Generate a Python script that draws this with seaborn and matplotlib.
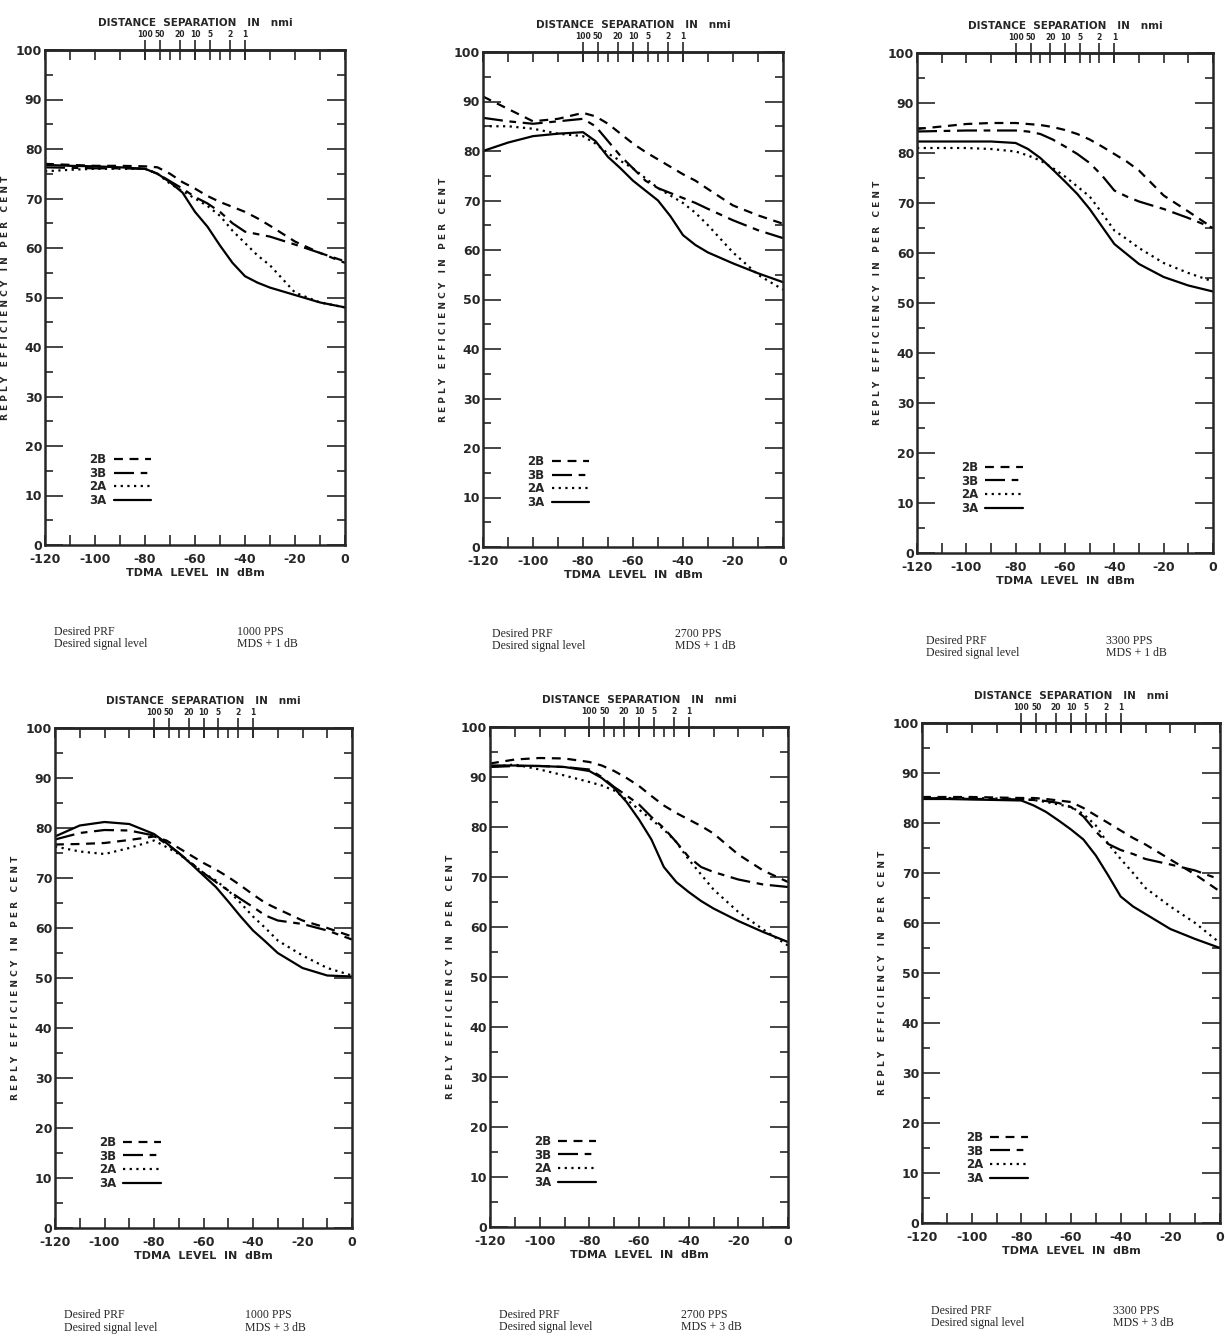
import numpy as np
import pandas as pd
import seaborn as sns
import matplotlib.pyplot as plt

# TDMA level (dBm) at which each curve was read
level = [-120, -110, -100, -90, -80, -75, -70, -65, -60, -55, -50, -45, -40, -35, -30, -20, -10, 0]
series_names = ["2B", "3B", "2A", "3A"]

# 1000 PPS, MDS + 1 dB
a_2b = [77, 76.8, 76.6, 76.6, 76.5, 76.3, 75, 73.3, 72, 70.5, 69.3, 68.3, 67.3, 66, 64.5, 61.3, 59, 57.3]
a_3b = [76.3, 76.2, 76.1, 76.1, 76, 75, 73.5, 72, 70.3, 69, 67.3, 65, 63.3, 62.8, 62.3, 60.7, 59, 57]
a_2a = [75.5, 75.8, 76, 76, 76, 75, 73, 71.5, 70, 68.5, 66.5, 63.5, 61, 58.5, 56.5, 51, 49, 48]
a_3a = [76.8, 76.6, 76.5, 76.3, 76, 75, 73.3, 71.2, 67.3, 64.3, 60.5, 57, 54.3, 53, 52, 50.5, 49, 48]

# 2700 PPS, MDS + 1 dB
b_2b = [91, 88.5, 86, 86.5, 87.7, 87, 85.5, 83.5, 81.5, 79.8, 78.3, 76.8, 75.3, 74, 72.3, 69, 67, 65.3]
b_3b = [86.7, 86, 85.5, 86, 86.5, 85, 82, 79, 76.5, 74, 72.5, 71.5, 70.5, 69.5, 68.3, 66, 64, 62.4]
b_2a = [85, 85, 84.5, 83.5, 83, 81.5, 79.5, 78, 76.5, 74.5, 72.5, 71, 69.5, 67.5, 65, 59.5, 55, 52]
b_3a = [80, 81.7, 83, 83.5, 83.8, 82, 78.8, 76.5, 74, 72, 70, 66.8, 63, 61, 59.5, 57.3, 55.3, 53.5]

# 3300 PPS, MDS + 1 dB
c_2b = [84.8, 85.3, 85.8, 86, 86, 85.8, 85.6, 85.2, 84.6, 83.8, 82.7, 81.3, 79.8, 78.3, 76.5, 71.5, 68.3, 65]
c_3b = [84.3, 84.4, 84.5, 84.5, 84.5, 84.3, 83.8, 82.7, 81.3, 79.8, 78, 75.5, 72.5, 71.3, 70.3, 68.8, 67, 65]
c_2a = [81, 81, 81, 80.8, 80.3, 79.5, 78.5, 77, 75.3, 73.3, 71.3, 68, 64.5, 62.8, 61, 58, 56, 54.3]
c_3a = [82.3, 82.3, 82.3, 82.3, 82, 80.8, 79, 76.7, 74.3, 71.8, 68.8, 65.3, 61.8, 59.8, 57.8, 55.2, 53.5, 52.3]

# 1000 PPS, MDS + 3 dB
d_2b = [76.7, 76.8, 77, 77.6, 78.3, 77.5, 76, 74.5, 73, 71.7, 70.2, 68.5, 66.7, 65, 63.8, 61.5, 60, 58.3]
d_3b = [77.7, 79, 79.6, 79.5, 78.5, 76.8, 75, 73, 71, 69.2, 67.5, 65.8, 64.2, 62.5, 61.5, 60.8, 59.5, 57.7]
d_2a = [76.3, 75.3, 74.8, 76, 77.5, 76.2, 74.8, 73, 71, 69.5, 67.5, 65, 62.3, 60, 57.5, 54.5, 52, 50.5]
d_3a = [78.3, 80.5, 81.2, 80.8, 78.8, 77, 75, 72.8, 70.5, 68.2, 65.3, 62.3, 59.5, 57.3, 55, 52, 50.5, 50.3]

# 2700 PPS, MDS + 3 dB
e_2b = [92.7, 93.5, 93.8, 93.7, 93, 92.3, 91.2, 89.8, 88.2, 86.2, 84.3, 82.8, 81.5, 80.2, 78.7, 74.5, 71.3, 69]
e_3b = [92, 92.2, 92.2, 92, 91.5, 90, 88, 86.3, 84.5, 82, 79.8, 77, 74, 72, 71, 69.5, 68.5, 68]
e_2a = [92, 92.5, 91.5, 90.3, 89, 88.3, 87.3, 85.5, 83.5, 81.5, 79.5, 77, 73.5, 70.5, 67.5, 63, 59.5, 56.3]
e_3a = [92.3, 92.3, 92.2, 92, 91.2, 89.8, 87.8, 85, 81.5, 77.5, 72, 69, 67, 65.2, 63.7, 61.2, 59, 57]

# 3300 PPS, MDS + 3 dB
f_2b = [85.2, 85.2, 85.2, 85.1, 85, 85, 84.8, 84.5, 84.2, 83, 81.5, 80, 78.5, 77, 75.7, 72.7, 69.7, 66.3]
f_3b = [85, 84.9, 84.8, 84.8, 84.7, 84.6, 84.4, 84, 83.2, 81.3, 78.3, 75.8, 74.6, 73.8, 72.8, 71.7, 70.5, 68.7]
f_2a = [85, 85, 85, 84.9, 84.8, 84.6, 84.2, 83.7, 83.2, 81.8, 79.5, 75.8, 72.8, 70, 67, 63.3, 60, 56]
f_3a = [84.8, 84.8, 84.7, 84.6, 84.5, 83.5, 82.2, 80.5, 78.7, 76.7, 73.5, 69.5, 65.3, 63.3, 61.8, 58.8, 56.8, 55]

panels = [
    [a_2b, a_3b, a_2a, a_3a],
    [b_2b, b_3b, b_2a, b_3a],
    [c_2b, c_3b, c_2a, c_3a],
    [d_2b, d_3b, d_2a, d_3a],
    [e_2b, e_3b, e_2a, e_3a],
    [f_2b, f_3b, f_2a, f_3a],
]
prf = ["1000 PPS", "2700 PPS", "3300 PPS", "1000 PPS", "2700 PPS", "3300 PPS"]
signal = ["MDS + 1 dB", "MDS + 1 dB", "MDS + 1 dB", "MDS + 3 dB", "MDS + 3 dB", "MDS + 3 dB"]
distance_ticks = [100, 50, 20, 10, 5, 2, 1]

styles = {"2B": (0, (4, 3)), "3B": (0, (9, 3, 3, 3)), "2A": (0, (1, 2)), "3A": "-"}

# axes boxes in pixels: left, top, right, bottom
boxes = [(45, 50, 345, 545), (483, 52, 783, 547), (917, 53, 1213, 553),
         (55, 728, 352, 1228), (490, 727, 788, 1227), (922, 723, 1220, 1223)]

sns.set_style("ticks")
plt.rcParams["font.family"] = ["DejaVu Sans"]
plt.rcParams["axes.unicode_minus"] = False

W, H = 1225, 1342
fig = plt.figure(figsize=(W / 100, H / 100), dpi=100)


def to_nmi(x):
    return 10 ** ((-40 - np.asarray(x, dtype=float)) / 20)


def to_dbm(d):
    d = np.clip(np.asarray(d, dtype=float), 1e-9, None)
    return -40 - 20 * np.log10(d)


ylab = "   ".join(" ".join(w) for w in "REPLY EFFICIENCY IN PER CENT".split())

for i, curves in enumerate(panels):
    l, t, r, b = boxes[i]
    ax = fig.add_axes([l / W, 1 - b / H, (r - l) / W, (b - t) / H])

    df = pd.DataFrame({
        "level": level * 4,
        "eff": sum(curves, []),
        "series": [s for s in series_names for _ in level],
    })
    for name in series_names:
        sub = df[df["series"] == name]
        sns.lineplot(data=sub, x="level", y="eff", ax=ax, color="black",
                     linestyle=styles[name], linewidth=1.6, label=name)

    ax.set_xlim(-120, 0)
    ax.set_ylim(0, 100)
    ax.set_xticks(range(-120, 1, 20))
    ax.set_xticks(range(-110, 0, 20), minor=True)
    ax.set_yticks(range(0, 101, 10))
    ax.set_yticks(range(5, 100, 10), minor=True)
    ax.tick_params(axis="x", which="both", direction="in", top=True, length=7,
                   width=1.2, labelsize=9, pad=6)
    ax.tick_params(axis="y", which="major", direction="in", right=True, length=13,
                   width=1.2, labelsize=9, pad=2)
    ax.tick_params(axis="y", which="minor", direction="in", right=True, length=6, width=1.2)
    for lab in ax.get_xticklabels() + ax.get_yticklabels():
        lab.set_fontweight("bold")
    for sp in ax.spines.values():
        sp.set_linewidth(1.8)

    ax.set_xlabel("TDMA  LEVEL  IN  dBm", fontsize=8, fontweight="bold", labelpad=1)
    ax.set_ylabel(ylab, fontsize=6.5, fontweight="bold", labelpad=4)

    sec = ax.secondary_xaxis("top", functions=(to_nmi, to_dbm))
    sec.set_xticks(distance_ticks)
    sec.set_xticklabels([str(d) for d in distance_ticks], fontsize=5.5, fontweight="bold")
    sec.tick_params(direction="inout", length=14, width=1.2, pad=1)
    sec.spines["top"].set_linewidth(1.8)
    sec.set_xlabel("DISTANCE  SEPARATION   IN   nmi", fontsize=7.5, fontweight="bold",
                   labelpad=3)

    ax.legend(loc="lower left", bbox_to_anchor=(0.12, 0.06), frameon=False,
              markerfirst=False, handlelength=3.2, handletextpad=0.6,
              labelspacing=0.05, borderpad=0.2,
              prop={"size": 8.5, "weight": "bold"})

    ax.text(0.03, -0.175, "Desired PRF", transform=ax.transAxes, fontsize=8.5,
            family="Liberation Serif", va="center")
    ax.text(0.03, -0.2, "Desired signal level", transform=ax.transAxes, fontsize=8.5,
            family="Liberation Serif", va="center")
    ax.text(0.64, -0.175, prf[i], transform=ax.transAxes, fontsize=8.5,
            family="Liberation Serif", va="center")
    ax.text(0.64, -0.2, signal[i], transform=ax.transAxes, fontsize=8.5,
            family="Liberation Serif", va="center")

fig.savefig("out.png", dpi=100, facecolor="white")
